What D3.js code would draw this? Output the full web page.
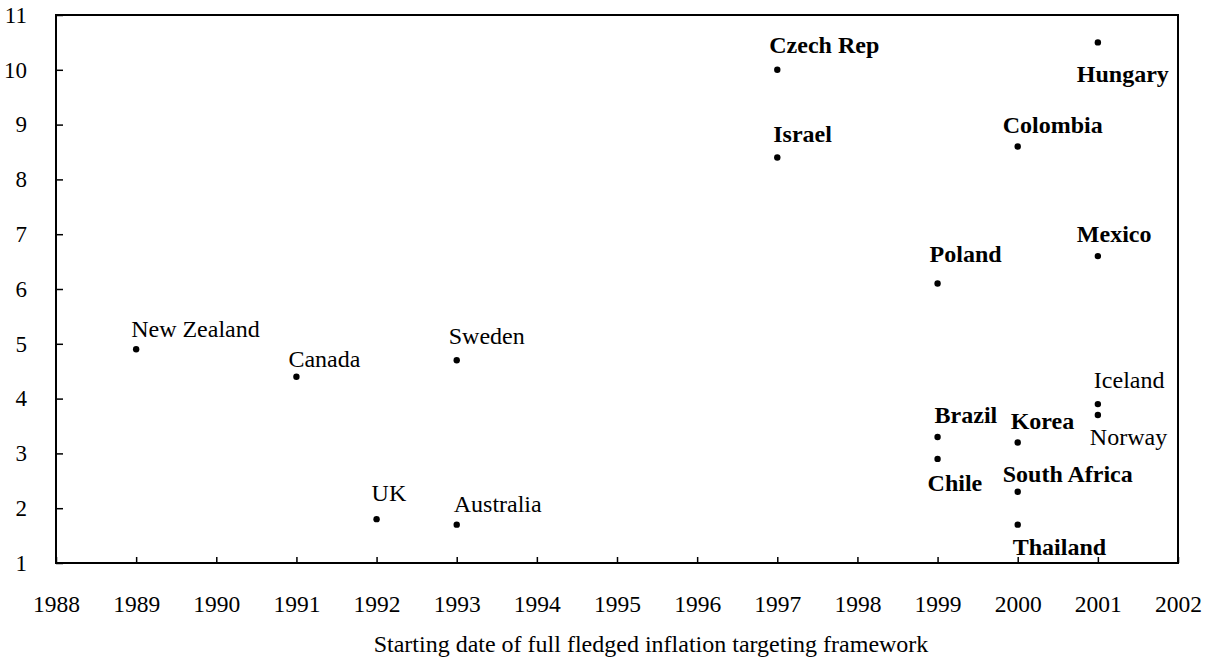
<!DOCTYPE html>
<html><head><meta charset="utf-8">
<script src="https://cdn.jsdelivr.net/npm/d3@7"></script>
<style>body{margin:0;background:#fff}svg{display:block}text{font-family:"Liberation Serif","Times New Roman",serif;fill:#000}</style>
</head><body>
<script>
// ---- data ----
const countries = ["New Zealand","Canada","UK","Sweden","Australia","Czech Rep","Israel","Poland","Brazil","Chile","Colombia","Korea","South Africa","Thailand","Hungary","Mexico","Iceland","Norway"];
const startYear = [1989,1991,1992,1993,1993,1997,1997,1999,1999,1999,2000,2000,2000,2000,2001,2001,2001,2001];
const inflation = [4.9,4.4,1.8,4.7,1.7,10.0,8.4,6.1,3.3,2.9,8.6,3.2,2.3,1.7,10.5,6.6,3.9,3.7];
const emerging = [false,false,false,false,false,true,true,true,true,true,true,true,true,true,true,true,false,false];
const xTicks = [1988,1989,1990,1991,1992,1993,1994,1995,1996,1997,1998,1999,2000,2001,2002];
const yTicks = [1,2,3,4,5,6,7,8,9,10,11];
const xTitle = "Starting date of full fledged inflation targeting framework";

// ---- label placement (layout only): [dx, dy] from the point ----
const labelOffset = {
  "New Zealand":[-5,-12],"Canada":[-8,-10],"UK":[-5,-18],"Sweden":[-8,-16],"Australia":[-3,-13],
  "Czech Rep":[-8,-17],"Israel":[-4,-15],"Poland":[-8,-22],"Brazil":[-3,-14],"Chile":[-10,32],
  "Colombia":[-15,-14],"Korea":[-7,-13],"South Africa":[-15,-10],"Thailand":[-5,30],
  "Hungary":[-21,40],"Mexico":[-21,-14],"Iceland":[-4,-16],"Norway":[-8,30]
};

const W=1215,H=661;
const m={left:56,right:37,top:15,bottom:98};
const svg=d3.select("body").append("svg").attr("width",W).attr("height",H);
const x=d3.scaleLinear().domain([1988,2002]).range([m.left,W-m.right]);
const y=d3.scaleLinear().domain([1,11]).range([H-m.bottom,m.top]);

// frame
svg.append("rect").attr("x",x(1988)).attr("y",y(11)).attr("width",x(2002)-x(1988)).attr("height",y(1)-y(11))
  .attr("fill","none").attr("stroke","#000").attr("stroke-width",2);

// axes
const xAxis=d3.axisBottom(x).tickValues(xTicks).tickFormat(d3.format("d")).tickSizeInner(-6).tickSizeOuter(0).tickPadding(32);
const gx=svg.append("g").attr("transform",`translate(0,${y(1)})`).call(xAxis);
gx.select(".domain").remove();
gx.selectAll("line").attr("stroke","#000").attr("stroke-width",1.5);
gx.selectAll("text").attr("font-size",23.5).attr("font-family","Liberation Serif").attr("fill","#000");

const yAxis=d3.axisLeft(y).tickValues(yTicks).tickFormat(d3.format("d")).tickSizeInner(-7).tickSizeOuter(0).tickPadding(29);
const gy=svg.append("g").attr("transform",`translate(${x(1988)},0)`).call(yAxis);
gy.select(".domain").remove();
gy.selectAll("line").attr("stroke","#000").attr("stroke-width",1.5);
gy.selectAll("text").attr("font-size",23).attr("font-family","Liberation Serif").attr("fill","#000").attr("text-anchor","end");

// title
svg.append("text").attr("x",651).attr("y",652).attr("text-anchor","middle")
  .attr("font-size",24).text(xTitle);

// points
const pts=countries.map((c,i)=>({c,yr:startYear[i],v:inflation[i],em:emerging[i]}));
svg.append("g").selectAll("circle").data(pts).join("circle")
  .attr("cx",d=>x(d.yr)).attr("cy",d=>y(d.v)).attr("r",3.2).attr("fill","#000");
svg.append("g").selectAll("text").data(pts).join("text")
  .attr("x",d=>x(d.yr)+labelOffset[d.c][0]).attr("y",d=>y(d.v)+labelOffset[d.c][1])
  .attr("font-size",24).attr("font-weight",d=>d.em?"bold":"normal").text(d=>d.c);
</script>
</body></html>
